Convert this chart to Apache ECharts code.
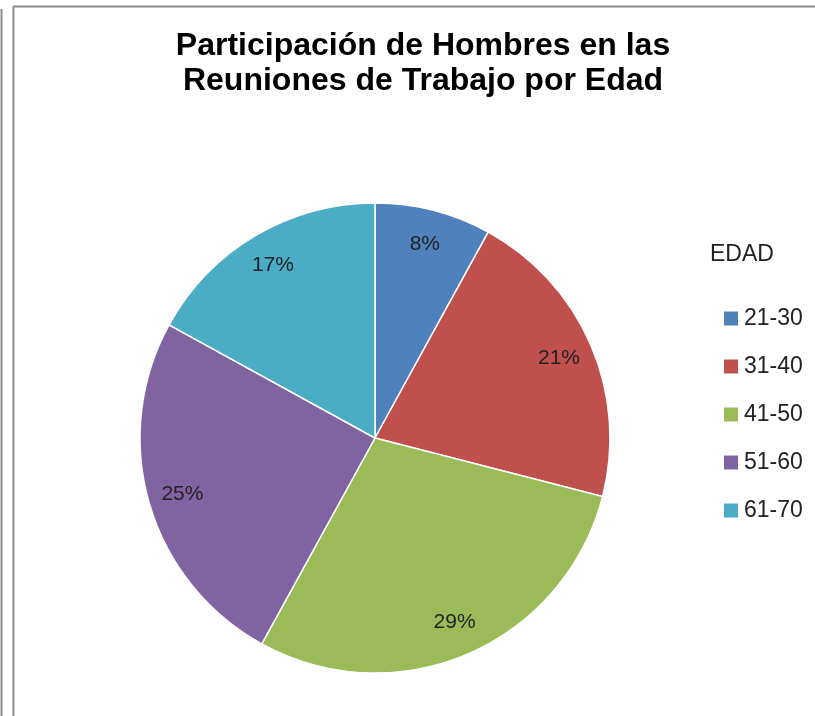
<!DOCTYPE html>
<html>
<head>
<meta charset="utf-8">
<script src="https://cdn.jsdelivr.net/npm/echarts@6/dist/echarts.min.js"></script>
<style>
  html, body { margin: 0; padding: 0; background: #fff; }
  #chart-panel { width: 815px; height: 716px; }
</style>
</head>
<body>
<div id="chart-panel"></div>
<script>
const categories = ["21-30", "31-40", "41-50", "51-60", "61-70"]
const values = [8, 21, 29, 25, 17]
const colors = ["#4f81bd", "#c0504d", "#9bbb59", "#8064a2", "#4bacc6"]
const titleText = "Participación de Hombres en las\nReuniones de Trabajo por Edad"
const legendTitle = "EDAD"

const chart = echarts.init(document.getElementById("chart-panel"))
const pieData = categories.map((name, i) => ({ name, value: values[i] }))
const center = [375, 438]

const options = {
  color: colors,
  animation: false,
  title: [
    {
      text: titleText,
      left: 418,
      top: 24,
      textAlign: "center",
      textStyle: {
        fontFamily: "Liberation Sans",
        fontSize: 32,
        fontWeight: "bold",
        color: "#000",
        lineHeight: 35
      }
    },
    {
      text: legendTitle,
      left: 705,
      top: 238,
      textStyle: {
        fontFamily: "Liberation Sans",
        fontSize: 23,
        fontWeight: "normal",
        color: "#222"
      }
    }
  ],
  graphic: [
    { type: "line", shape: { x1: 1.5, y1: 9, x2: 1.5, y2: 716 }, style: { stroke: "#8c8c8c", lineWidth: 2 } },
    { type: "line", shape: { x1: 13.5, y1: 6, x2: 13.5, y2: 716 }, style: { stroke: "#8c8c8c", lineWidth: 2 } },
    { type: "line", shape: { x1: 13, y1: 6.5, x2: 815, y2: 6.5 }, style: { stroke: "#8c8c8c", lineWidth: 2 } }
  ],
  legend: {
    orient: "vertical",
    left: 717,
    top: 302,
    itemWidth: 16,
    itemHeight: 16,
    itemGap: 25,
    icon: "rect",
    data: categories,
    textStyle: {
      fontFamily: "Liberation Sans",
      fontSize: 23,
      color: "#222"
    }
  },
  series: [
    {
      type: "pie",
      center: center,
      radius: [0, 235],
      startAngle: 90,
      clockwise: true,
      silent: true,
      data: pieData,
      label: { show: false },
      labelLine: { show: false },
      itemStyle: { borderColor: "#fff", borderWidth: 1.5 }
    },
    {
      // transparent ring, only used to place the % labels near the rim
      type: "pie",
      center: center,
      radius: [160, 235],
      startAngle: 90,
      clockwise: true,
      silent: true,
      data: pieData,
      itemStyle: { color: "rgba(0,0,0,0)", borderWidth: 0 },
      labelLine: { show: false },
      label: {
        show: true,
        position: "inside",
        formatter: "{c}%",
        fontFamily: "Liberation Sans",
        fontSize: 21,
        color: "#222"
      }
    }
  ]
}
chart.setOption(options)
</script>
</body>
</html>
